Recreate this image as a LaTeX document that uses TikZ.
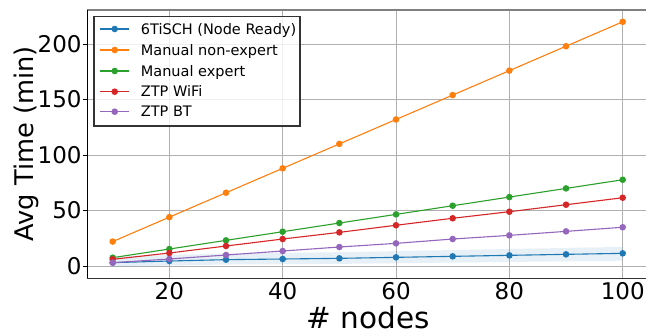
\documentclass[tikz,border=0pt]{standalone}
\usepackage{fontspec}
\setmainfont{DejaVu Sans}
\definecolor{cb}{HTML}{1F77B4}
\definecolor{co}{HTML}{FF7F0E}
\definecolor{cg}{HTML}{2CA02C}
\definecolor{cr}{HTML}{D62728}
\definecolor{cp}{HTML}{9467BD}
\definecolor{gridc}{HTML}{B0B0B0}
\tikzset{
  gridline/.style={draw=gridc, line width=0.9pt},
  ln/.style={line width=1.1pt},
  mk/.style={circle, inner sep=0pt, minimum size=6.6pt, draw=none},
  ticklab/.style={font=\fontsize{23}{27}\selectfont, inner sep=0pt},
  leglab/.style={font=\fontsize{14.5}{17}\selectfont, inner sep=0pt, anchor=base west},
  legbox/.style={draw=black!80, line width=1.1pt, fill=white, fill opacity=0.8},
}
\begin{document}
\begin{tikzpicture}[x=1pt,y=1pt]
\useasboundingbox (0,0) rectangle (646,335);
\clip (0,0) rectangle (646,335);
\fill[white] (0,0) rectangle (646,335);
\begin{scope}[xshift=56pt, yshift=69pt, x=5.667pt, y=1.11pt]
  % grid
  \foreach \n in {20,40,...,100} \draw[gridline] (\n,-11.1) -- (\n,230.6);
  \foreach \v in {0,50,...,200} \draw[gridline] (5.5,\v) -- (104.5,\v);
  % band
  \fill[cb, opacity=0.11] (10,8.35) -- (20,9.9) -- (30,11.15) -- (40,11.8) -- (50,12.45) -- (60,13.4) -- (70,14.35) -- (80,15.3) -- (90,16.25) -- (100,17.2)
    -- (100,4.8) -- (90,4.22) -- (80,3.64) -- (70,3.06) -- (60,2.48) -- (50,1.9) -- (40,1.62) -- (30,1.34) -- (20,0.46) -- (10,-0.7) -- cycle;
  % series
  \foreach \n/\v in {10/3,20/4.5,30/5.7,40/6.3,50/6.9,60/7.8,70/8.7,80/9.6,90/10.5,100/11.4}
    \node[mk, fill=cb] (b\n) at (\n,\v) {};
  \draw[cb, ln] (b10.center) foreach \n in {20,30,...,100} { -- (b\n.center) };
  \foreach \n/\v in {10/22,20/44,30/66,40/88,50/110,60/132,70/154,80/176,90/198,100/220}
    \node[mk, fill=co] (o\n) at (\n,\v) {};
  \draw[co, ln] (o10.center) foreach \n in {20,30,...,100} { -- (o\n.center) };
  \foreach \n/\v in {10/7.5,20/15.3,30/23.1,40/30.9,50/38.7,60/46.5,70/54.3,80/62.1,90/69.9,100/77.7}
    \node[mk, fill=cg] (g\n) at (\n,\v) {};
  \draw[cg, ln] (g10.center) foreach \n in {20,30,...,100} { -- (g\n.center) };
  \foreach \n/\v in {10/6,20/11.7,30/18,40/24.3,50/30.3,60/36.7,70/43,80/48.9,90/55.2,100/61.5}
    \node[mk, fill=cr] (r\n) at (\n,\v) {};
  \draw[cr, ln] (r10.center) foreach \n in {20,30,...,100} { -- (r\n.center) };
  \foreach \n/\v in {10/3,20/6.3,30/9.9,40/13.5,50/17.1,60/20.4,70/24.3,80/27.6,90/31.2,100/34.9}
    \node[mk, fill=cp] (p\n) at (\n,\v) {};
  \draw[cp, ln] (p10.center) foreach \n in {20,30,...,100} { -- (p\n.center) };
  % spines
  \draw[black!50, line width=1.5pt] (5.5,230.6) -- (104.5,230.6);
  \draw[black!80, line width=1.2pt] (5.5,-11.1) -- (104.5,-11.1);
  \draw[black, line width=1.2pt] (5.5,-11.1) -- (5.5,230.6);
  % y ticks
  \foreach \v in {0,50,...,200} {
    \draw[black, line width=0.9pt] (5.5,\v) -- ++(-3.8pt,0);
    \node[ticklab, anchor=east] (yt\v) at ([xshift=-5.4pt]5.5,\v) {\v};
  }
  % x ticks
  \foreach \n in {20,40,...,100}
    \node[ticklab, anchor=base] (xt\n) at (\n,-30.6) {\n};
\end{scope}
% axis labels
\node[rotate=90, anchor=base, inner sep=0pt, font=\fontsize{25.7}{30}\selectfont] (ylab) at (33,191) {Avg Time (min)};
\node[anchor=base, inner sep=0pt, font=\fontsize{29.5}{34}\selectfont] (xlab) at (368,6.5) {\# nodes};
% legend
\draw[legbox] (94,318.3) rectangle (300,209);
\foreach \y/\c/\t [count=\i] in {306/cb/{6TiSCH (Node Ready)},285/co/{Manual non-expert},264/cg/{Manual expert},243.3/cr/{ZTP WiFi},223.3/cp/{ZTP BT}} {
  \coordinate (la\i) at (100,\y);
  \coordinate (lb\i) at (129.3,\y);
  \draw[\c, ln] (la\i) -- (lb\i);
  \node[mk, fill=\c] (lm\i) at (114.7,\y) {};
  \node[leglab] (lt\i) at (140.7,\y-5.3) {\t};
}
\end{tikzpicture}
\end{document}
